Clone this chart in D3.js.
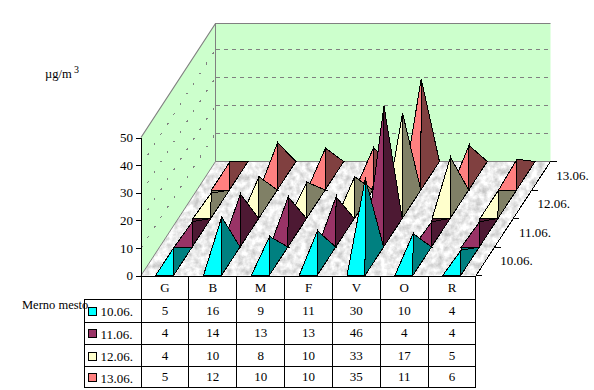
<!DOCTYPE html>
<html>
<head>
<meta charset="utf-8">
<script src="https://cdn.jsdelivr.net/npm/d3@7/dist/d3.min.js"></script>
<style>
  html, body { margin: 0; padding: 0; background: #fff; }
  svg { display: block; }
  text { font-family: "Liberation Serif", "Times New Roman", serif; fill: #000; }
  line, .face { shape-rendering: crispEdges; }
</style>
</head>
<body>
<div id="chart"></div>
<script>
// values
const places = ['G', 'B', 'M', 'F', 'V', 'O', 'R'];
const dates = ['10.06.', '11.06.', '12.06.', '13.06.'];
const series1006 = [5, 16, 9, 11, 30, 10, 4];
const series1106 = [4, 14, 13, 13, 46, 4, 4];
const series1206 = [4, 10, 8, 10, 33, 17, 5];
const series1306 = [5, 12, 10, 10, 35, 11, 6];
const allSeries = [series1006, series1106, series1206, series1306];
const yTicks = [0, 10, 20, 30, 40, 50];
const frontColors = ['#00ffff', '#993366', '#ffffcc', '#ff8080'];
const sideColors = ['#008080', '#4d1933', '#808066', '#804040'];

const width = 594, height = 390;
const x0 = 141, x1 = 476, yBase = 275.5;   // front edge of the floor
const depthX = 74.5, depthY = -114;        // floor front to back
const barShare = 0.375;

const svg = d3.select('#chart').append('svg')
    .attr('width', width)
    .attr('height', height);

// marble floor
const defs = svg.append('defs');
const marble = defs.append('filter').attr('id', 'marble')
    .attr('x', 0).attr('y', 0).attr('width', 1).attr('height', 1)
    .attr('color-interpolation-filters', 'sRGB');
marble.append('feTurbulence')
    .attr('type', 'fractalNoise')
    .attr('baseFrequency', 0.16)
    .attr('numOctaves', 3)
    .attr('seed', 4)
    .attr('result', 'noise');
marble.append('feColorMatrix')
    .attr('in', 'noise')
    .attr('type', 'matrix')
    .attr('values', '0.42 0 0 0 0.71  0.42 0 0 0 0.71  0.42 0 0 0 0.71  0 0 0 0 1')
    .attr('result', 'grey');
marble.append('feComposite').attr('in', 'grey').attr('in2', 'SourceAlpha').attr('operator', 'in');

const xScale = d3.scaleBand().domain(places).range([x0, x1]);
const depthScale = d3.scaleBand().domain(dates).range([0, 1]);
const yScale = d3.scaleLinear().domain([0, 50]).range([0, 138]);
const gridScale = d3.scaleLinear().domain([0, 50]).range([0, 140]);

// floor position + height to screen
function project(x, d, v) {
    return [x + d * depthX, yBase + d * depthY - yScale(v || 0)];
}
const line = pts => 'M' + pts.map(p => p.join(',')).join('L') + 'Z';

const corner = project(x0, 1);       // back left
const cornerR = project(x1, 1);      // back right
const wallH = yScale(50);

// walls
svg.append('path')
    .attr('d', line([[x0, yBase], corner, [corner[0], corner[1] - wallH], [x0, yBase - wallH]]))
    .attr('fill', '#ccffcc');
svg.append('rect')
    .attr('x', corner[0]).attr('y', corner[1] - wallH)
    .attr('width', cornerR[0] - corner[0]).attr('height', wallH)
    .attr('fill', '#ccffcc');

// gridlines on the walls
yTicks.slice(1, -1).forEach(t => {
    const h = yScale(t);
    svg.append('line')
        .attr('x1', corner[0]).attr('x2', cornerR[0])
        .attr('y1', corner[1] - gridScale(t)).attr('y2', corner[1] - gridScale(t))
        .attr('stroke', '#808080').attr('stroke-dasharray', '4 4');
    svg.append('line')
        .attr('x1', x0).attr('x2', corner[0])
        .attr('y1', yBase - h).attr('y2', corner[1] - gridScale(t))
        .attr('stroke', '#808080').attr('stroke-width', 1.2).attr('stroke-dasharray', '2 10');
});

// wall borders
svg.append('path')
    .attr('d', 'M' + [x0, yBase - wallH] + 'L' + [corner[0], corner[1] - wallH] + 'L' + [cornerR[0], corner[1] - wallH])
    .attr('fill', 'none').attr('stroke', '#808080').attr('stroke-width', 1.2);
svg.append('line')
    .attr('x1', corner[0]).attr('x2', corner[0])
    .attr('y1', corner[1] - wallH).attr('y2', corner[1])
    .attr('stroke', '#808080');

// floor
const floorPts = [[x0, yBase], [x1, yBase], cornerR, corner];
svg.append('path')
    .attr('d', line(floorPts))
    .attr('fill', '#000')
    .attr('filter', 'url(#marble)');
svg.append('path')
    .attr('d', 'M' + [x0, yBase] + 'L' + corner + 'L' + cornerR)
    .attr('fill', 'none').attr('stroke', '#808080');

// pyramids, back row first
const rowDepth = depthScale.bandwidth();
const barW = xScale.bandwidth() * barShare;
const barOffset = xScale.bandwidth() * 0.305;
d3.range(dates.length - 1, -1, -1).forEach(r => {
    const d = depthScale(dates[r]);
    const g = svg.append('g').attr('class', 'row');
    places.forEach((place, i) => {
        const left = xScale(place) + barOffset;
        const fl = project(left, d);
        const fr = project(left + barW, d);
        const br = project(left + barW, d + rowDepth);
        const bl = project(left, d + rowDepth);
        const apex = project(left + barW / 2, d + rowDepth / 2, allSeries[r][i]);
        const faces = [
            [[bl, br, apex], sideColors[r]],
            [[fl, fr, apex], frontColors[r]],
            [[fr, br, apex], sideColors[r]]
        ];
        faces.forEach(f => {
            g.append('path')
                .attr('class', 'face')
                .attr('d', line(f[0]))
                .attr('fill', f[1])
                .attr('stroke', '#000')
                .attr('stroke-width', 1)
                .attr('stroke-linejoin', 'miter')
                .attr('stroke-miterlimit', 8);
        });
    });
});

// value axis
const yAxisScale = d3.scaleLinear().domain([0, 50]).range([yBase, yBase - wallH]);
const axisG = svg.append('g')
    .attr('transform', 'translate(' + x0 + ',0)')
    .call(d3.axisLeft(yAxisScale).tickValues(yTicks).tickSize(5).tickSizeOuter(0).tickPadding(3));
axisG.selectAll('text').style('font-size', '13px').style('font-family', '"Liberation Serif"').attr('fill', '#000');
axisG.selectAll('line, path').attr('stroke', '#000');

// depth axis on the right
svg.append('line')
    .attr('x1', x1).attr('y1', yBase).attr('x2', cornerR[0]).attr('y2', cornerR[1])
    .attr('stroke', '#000');
dates.forEach(date => {
    const d = depthScale(date);
    const tickEnd = project(x1, d + rowDepth);
    const labelAt = project(x1, d + rowDepth / 2);
    svg.append('line')
        .attr('x1', tickEnd[0]).attr('x2', tickEnd[0] + 6)
        .attr('y1', tickEnd[1]).attr('y2', tickEnd[1])
        .attr('stroke', '#000');
    svg.append('text')
        .attr('x', labelAt[0] + 15).attr('y', labelAt[1] + 4)
        .style('font-size', '13px')
        .text(date);
});
svg.append('line')
    .attr('x1', x1).attr('x2', x1 + 6).attr('y1', yBase).attr('y2', yBase)
    .attr('stroke', '#000');

// data table
const rowYs = [yBase + 0.5, 299, 322, 344.5, 366.5, 387.5];
const tableLeft = 84.5;
const rowMid = i => (rowYs[i] + rowYs[i + 1]) / 2;
const table = svg.append('g').attr('class', 'table');

rowYs.forEach((y, i) => {
    table.append('line')
        .attr('x1', i === 0 ? x0 : tableLeft).attr('x2', x1 - 0.5)
        .attr('y1', Math.floor(y) + 0.5).attr('y2', Math.floor(y) + 0.5)
        .attr('stroke', '#000');
});
table.append('line')
    .attr('x1', tableLeft).attr('x2', tableLeft).attr('y1', rowYs[1]).attr('y2', rowYs[5])
    .attr('stroke', '#000');
places.concat(['end']).forEach(place => {
    const x = place === 'end' ? x1 - 1 : xScale(place);
    table.append('line')
        .attr('x1', Math.floor(x) + 0.5).attr('x2', Math.floor(x) + 0.5)
        .attr('y1', yBase).attr('y2', rowYs[5])
        .attr('stroke', '#000');
});

places.forEach(place => {
    table.append('text')
        .attr('x', xScale(place) + xScale.bandwidth() / 2)
        .attr('y', rowMid(0) + 4)
        .attr('text-anchor', 'middle')
        .style('font-size', '13px')
        .text(place);
});

allSeries.forEach((values, r) => {
    const y = rowMid(r + 1);
    table.append('rect')
        .attr('x', 88.5).attr('y', Math.round(y - 3) - 0.5)
        .attr('width', 8).attr('height', 8)
        .attr('fill', frontColors[r]).attr('stroke', '#000');
    table.append('text')
        .attr('x', 100.5).attr('y', y + 5.5)
        .style('font-size', '13px')
        .text(dates[r]);
    values.forEach((v, i) => {
        table.append('text')
            .attr('x', xScale(places[i]) + xScale.bandwidth() / 2)
            .attr('y', y + 4)
            .attr('text-anchor', 'middle')
            .style('font-size', '13px')
            .text(v);
    });
});

// titles
svg.append('text')
    .attr('x', 22).attr('y', 309)
    .style('font-size', '12.5px')
    .text('Merno mesto');
svg.append('text')
    .attr('x', 45).attr('y', 78)
    .style('font-size', '12.5px')
    .text('µg/m');
svg.append('text')
    .attr('x', 74).attr('y', 73)
    .style('font-size', '10px')
    .text('3');
</script>
</body>
</html>
